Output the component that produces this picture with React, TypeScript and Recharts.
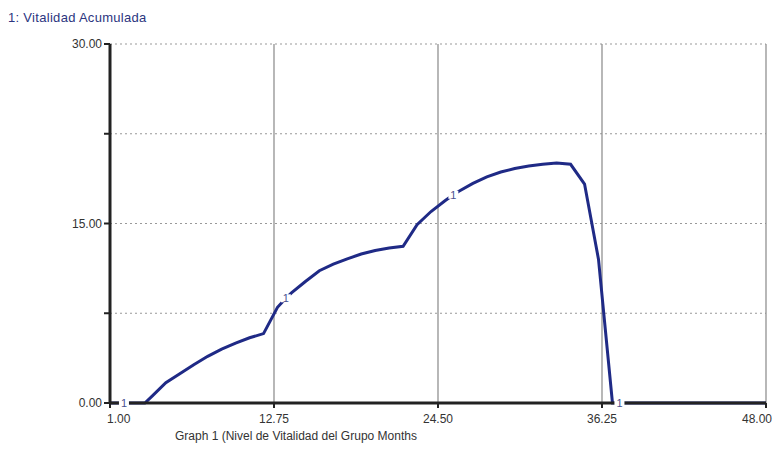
import React from "react";
import { LineChart, Line, XAxis, YAxis, CartesianGrid } from "recharts";

const months = [
  1, 2, 3, 3.5, 4, 5, 6, 7, 8, 9, 10, 11, 12, 13, 13.6, 14, 15, 16, 17, 18, 19, 20,
  21, 22, 23, 24, 25, 25.6, 26, 27, 28, 29, 30, 31, 32, 33, 34, 35, 36, 37, 37.5,
  38, 39, 40, 41, 42, 43, 44, 45, 46, 47, 48,
];
const vitalidad = [
  0, 0, 0, 0, 0.55, 1.7, 2.45, 3.2, 3.9, 4.5, 5.0, 5.45, 5.8, 8.0, 8.75, 9.2, 10.15,
  11.05, 11.6, 12.05, 12.45, 12.75, 12.95, 13.1, 14.9, 16.0, 16.9, 17.4, 17.7, 18.35,
  18.9, 19.3, 19.6, 19.8, 19.95, 20.05, 19.95, 18.3, 12.0, 0, 0,
  0, 0, 0, 0, 0, 0, 0, 0, 0, 0, 0,
];
const labelMonths = [2, 13.6, 25.6, 37.5];
const xTicks = [1, 12.75, 24.5, 36.25, 48];
const yTicks = [0, 7.5, 15, 22.5, 30];
const yLabelTicks = [0, 15, 30];

const titleText = "1: Vitalidad Acumulada";
const captionText = "Graph 1 (Nivel de Vitalidad del Grupo Months";

const data = months.map((m, i) => ({ month: m, value: vitalidad[i] }));

const FONT = "'Liberation Sans', Arial, sans-serif";
const LINE_COLOR = "#1f2a86";

const YTick = (props: any) => {
  const { x, y, payload } = props;
  if (!yLabelTicks.includes(payload.value)) return <g />;
  return (
    <text x={x} y={y} dy={4} textAnchor="end" fontSize={12} fontFamily={FONT} fill="#333">
      {payload.value.toFixed(2)}
    </text>
  );
};

const XTick = (props: any) => {
  const { x, y, payload, index } = props;
  let anchor: "start" | "middle" | "end" = "middle";
  let dx = 0;
  if (payload.value === xTicks[0]) {
    anchor = "start";
    dx = -3;
  } else if (payload.value === xTicks[xTicks.length - 1]) {
    anchor = "end";
    dx = 6;
  }
  return (
    <text
      key={index}
      x={x + dx}
      y={y}
      dy={13}
      textAnchor={anchor}
      fontSize={12}
      fontFamily={FONT}
      fill="#333"
    >
      {payload.value.toFixed(2)}
    </text>
  );
};

const LabelDot = (props: any) => {
  const { cx, cy, payload, index } = props;
  if (!labelMonths.includes(payload.month)) return <g key={`d${index}`} />;
  return (
    <g key={`d${index}`}>
      <rect x={cx - 5} y={cy - 4} width={10} height={8} fill="#fff" />
      <text
        x={cx}
        y={cy}
        dy={4}
        textAnchor="middle"
        fontSize={11}
        fontFamily={FONT}
        fill="#4a5290"
      >
        1
      </text>
    </g>
  );
};

export default function App() {
  return (
    <div style={{ position: "relative", width: 779, height: 460, background: "#fff" }}>
      <style>{`body{margin:0;}`}</style>
      <div
        style={{
          position: "absolute",
          left: 8,
          top: 10,
          fontSize: 13,
          fontFamily: FONT,
          color: "#2c3580",
          whiteSpace: "nowrap",
          letterSpacing: 0.3,
        }}
      >
        {titleText}
      </div>
      <LineChart
        width={779}
        height={460}
        data={data}
        margin={{ top: 44, right: 13, bottom: 27, left: 50 }}
      >
        <CartesianGrid
          vertical={false}
          stroke="#999"
          strokeDasharray="2 3"
          strokeWidth={1.2}
        />
        <CartesianGrid horizontal={false} stroke="#888" strokeWidth={1.2} />
        <XAxis
          dataKey="month"
          type="number"
          domain={[1, 48]}
          ticks={xTicks}
          interval={0}
          height={30}
          stroke="#222"
          strokeWidth={3}
          tickSize={5}
          tickLine={{ stroke: "#222", strokeWidth: 2 }}
          tick={<XTick />}
        />
        <YAxis
          type="number"
          domain={[0, 30]}
          ticks={yTicks}
          interval={0}
          width={60}
          stroke="#222"
          strokeWidth={3}
          tickSize={6}
          tickLine={{ stroke: "#222", strokeWidth: 2 }}
          tick={<YTick />}
        />
        <Line
          type="linear"
          dataKey="value"
          stroke={LINE_COLOR}
          strokeWidth={3}
          dot={LabelDot}
          activeDot={false}
          isAnimationActive={false}
        />
      </LineChart>
      <div
        style={{
          position: "absolute",
          left: 175,
          top: 429,
          fontSize: 12,
          fontFamily: FONT,
          color: "#333",
          whiteSpace: "nowrap",
        }}
      >
        {captionText}
      </div>
    </div>
  );
}
